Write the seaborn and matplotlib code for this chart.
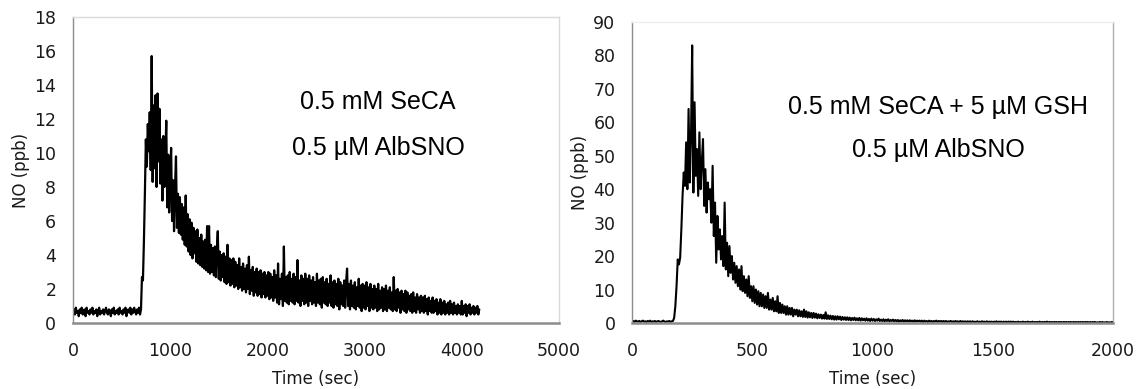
import numpy as np
import pandas as pd
import matplotlib
matplotlib.use("Agg")
import matplotlib.pyplot as plt
import seaborn as sns

# ---------------- data ----------------
left_dt = 10    # seconds between samples, left trace
right_dt = 5    # seconds between samples, right trace

left_no = [
    0.6, 0.8, 0.5, 0.9, 0.6, 0.7, 0.4, 0.8, 0.6, 0.9,
    0.5, 0.7, 0.8, 0.4, 0.9, 0.6, 0.7, 0.5, 0.8, 0.6,
    0.9, 0.5, 0.7, 0.6, 0.8, 0.4, 0.7, 0.9, 0.5, 0.7,
    0.6, 0.8, 0.5, 0.7, 0.9, 0.6, 0.5, 0.8, 0.7, 0.4,
    0.8, 0.6, 0.9, 0.5, 0.7, 0.6, 0.8, 0.5, 0.9, 0.6,
    0.7, 0.5, 0.8, 0.6, 0.9, 0.4, 0.7, 0.8, 0.6, 0.9,
    0.5, 0.8, 0.6, 0.9, 0.7, 0.5, 0.8, 0.6, 0.9, 0.5,
    0.8, 2.7, 2.5, 4.8, 7.6, 10.8, 9.2, 11.7, 10.1, 12.4,
    9.0, 15.7, 8.3, 12.8, 9.1, 13.4, 8.0, 13.5, 9.5, 12.6,
    8.2, 10.8, 7.2, 11.0, 8.0, 9.6, 11.9, 6.8, 9.9, 6.5,
    8.8, 10.3, 6.0, 8.4, 5.4, 8.0, 9.8, 5.6, 7.6, 5.3,
    7.4, 5.2, 7.0, 4.9, 6.8, 4.6, 7.5, 4.5, 6.4, 4.2,
    6.1, 4.0, 5.9, 3.8, 5.6, 4.1, 5.4, 3.6, 5.5, 3.5,
    5.0, 3.4, 5.2, 3.3, 4.8, 3.2, 4.9, 3.1, 5.7, 3.0,
    5.7, 2.9, 4.6, 3.0, 4.4, 2.8, 4.5, 2.7, 4.3, 5.4,
    2.6, 4.2, 2.5, 4.0, 2.7, 4.1, 2.4, 3.9, 2.3, 4.6,
    2.4, 3.8, 2.2, 3.7, 2.3, 3.8, 2.1, 3.6, 2.2, 3.4,
    2.0, 3.8, 2.1, 3.3, 1.9, 3.5, 2.0, 3.2, 1.8, 3.4,
    2.0, 3.9, 1.7, 3.1, 1.9, 3.3, 1.6, 3.0, 1.8, 3.2,
    1.6, 3.0, 1.7, 3.1, 1.5, 2.9, 1.7, 3.0, 1.5, 2.8,
    1.6, 3.0, 1.4, 2.9, 1.5, 2.7, 1.3, 3.1, 1.5, 2.8,
    1.2, 3.5, 1.1, 2.6, 1.4, 2.9, 1.0, 4.5, 1.3, 2.7,
    1.2, 2.8, 1.1, 3.0, 1.3, 2.6, 1.2, 2.9, 1.1, 2.7,
    1.3, 3.7, 1.2, 2.5, 1.0, 2.8, 1.3, 2.6, 1.1, 2.9,
    1.2, 2.6, 1.0, 2.8, 1.3, 2.5, 1.1, 2.7, 1.2, 2.4,
    1.0, 2.9, 1.2, 2.5, 1.1, 2.6, 0.9, 2.7, 1.2, 2.4,
    1.1, 2.6, 1.0, 2.3, 1.2, 2.8, 1.0, 2.4, 0.9, 2.5,
    1.1, 2.3, 1.0, 2.6, 0.8, 2.4, 1.1, 2.2, 1.0, 2.5,
    0.9, 2.4, 3.2, 1.0, 2.3, 0.8, 2.5, 1.0, 2.2, 0.9,
    2.4, 0.8, 2.1, 1.0, 2.6, 0.9, 2.2, 0.7, 2.3, 0.9,
    2.2, 0.8, 2.4, 1.0, 2.1, 0.7, 2.3, 0.9, 2.0, 0.8,
    2.2, 0.9, 2.0, 0.7, 2.3, 0.8, 1.9, 0.9, 2.1, 0.7,
    2.0, 0.8, 2.2, 0.7, 1.9, 0.9, 2.1, 0.8, 1.8, 0.7,
    2.7, 0.8, 1.9, 0.7, 2.0, 0.9, 1.8, 0.6, 1.9, 0.8,
    1.7, 0.7, 1.9, 0.6, 1.8, 0.8, 1.6, 0.7, 1.7, 0.6,
    1.8, 0.7, 1.5, 0.6, 1.7, 0.8, 1.5, 0.6, 1.6, 0.7,
    1.5, 0.6, 1.6, 0.7, 1.4, 0.5, 1.5, 0.7, 1.3, 0.6,
    1.5, 0.6, 1.3, 0.7, 1.4, 0.5, 1.2, 0.6, 1.4, 0.5,
    1.2, 0.6, 1.3, 0.5, 1.1, 0.6, 1.2, 0.5, 1.3, 0.6,
    1.1, 0.5, 1.2, 0.6, 1.0, 0.5, 1.1, 0.6, 1.0, 0.5,
    1.3, 0.5, 1.0, 0.6, 1.1, 0.4, 1.0, 0.6, 1.1, 0.5,
    0.9, 0.6, 1.0, 0.5, 0.9, 0.6, 1.0, 0.5, 0.8,
]

right_no = [
    0.4, 0.6, 0.3, 0.7, 0.5, 0.4, 0.6, 0.3, 0.5, 0.7,
    0.4, 0.5, 0.3, 0.6, 0.4, 0.7, 0.3, 0.5, 0.4, 0.6,
    0.3, 0.5, 0.6, 0.4, 0.3, 0.5, 0.7, 0.4, 0.3, 0.5,
    0.4, 0.6, 0.3, 0.5, 0.6, 1.5, 5.0, 11.0, 19.0, 17.5,
    19.5, 28.0, 38.0, 45.0, 41.0, 54.0, 40.0, 64.0, 42.0, 55.0,
    83.0, 39.0, 66.0, 44.0, 52.0, 38.0, 57.0, 40.0, 48.0, 55.0,
    35.0, 46.0, 33.0, 42.0, 37.0, 40.0, 30.0, 47.0, 26.0, 36.0,
    18.0, 32.0, 22.0, 28.0, 19.0, 26.0, 17.0, 36.0, 16.0, 24.0,
    14.0, 23.0, 15.0, 20.0, 13.0, 18.0, 12.0, 17.0, 11.0, 16.0,
    10.0, 17.0, 9.5, 14.0, 9.0, 13.0, 8.0, 14.0, 7.5, 11.0,
    6.5, 11.0, 6.0, 10.0, 5.5, 9.5, 5.0, 9.0, 5.0, 8.5,
    4.5, 8.0, 4.5, 9.0, 4.0, 7.0, 4.0, 7.5, 3.5, 6.5,
    3.5, 8.0, 3.0, 6.0, 3.0, 5.5, 3.0, 5.0, 2.5, 5.0,
    2.5, 4.5, 2.5, 4.5, 2.0, 4.0, 2.5, 4.0, 2.0, 3.8,
    2.0, 3.5, 1.8, 4.0, 1.8, 3.5, 1.6, 3.2, 1.7, 3.0,
    1.5, 3.0, 1.6, 2.8, 1.4, 2.6, 1.5, 2.5, 1.3, 2.4,
    1.3, 3.2, 1.2, 2.3, 1.2, 2.2, 1.1, 2.1, 1.0, 2.0,
    1.0, 2.0, 1.1, 1.9, 0.9, 1.8, 1.0, 1.7, 0.9, 1.7,
    0.9, 1.6, 0.8, 1.5, 0.9, 1.6, 0.8, 1.4, 0.8, 1.5,
    0.7, 1.4, 0.8, 1.3, 0.7, 1.4, 0.7, 1.2, 0.6, 1.3,
    0.7, 1.2, 0.6, 1.1, 0.7, 1.3, 0.6, 1.0, 0.6, 1.1,
    0.5, 1.0, 0.6, 1.1, 0.5, 0.9, 0.6, 1.0, 0.5, 0.9,
    0.5, 0.9, 0.4, 0.8, 0.5, 0.9, 0.4, 0.8, 0.5, 0.8,
    0.4, 0.8, 0.5, 0.7, 0.4, 0.8, 0.4, 0.7, 0.5, 0.7,
    0.4, 0.7, 0.3, 0.7, 0.4, 0.6, 0.3, 0.7, 0.4, 0.6,
    0.3, 0.6, 0.4, 0.7, 0.3, 0.6, 0.4, 0.6, 0.3, 0.6,
    0.3, 0.6, 0.3, 0.5, 0.4, 0.6, 0.3, 0.5, 0.3, 0.6,
    0.3, 0.5, 0.2, 0.6, 0.3, 0.5, 0.3, 0.5, 0.2, 0.5,
    0.3, 0.5, 0.2, 0.5, 0.3, 0.4, 0.2, 0.5, 0.3, 0.4,
    0.2, 0.5, 0.3, 0.4, 0.2, 0.5, 0.2, 0.4, 0.3, 0.4,
    0.2, 0.4, 0.2, 0.5, 0.2, 0.4, 0.3, 0.4, 0.2, 0.4,
    0.2, 0.4, 0.2, 0.4, 0.3, 0.4, 0.2, 0.4, 0.2, 0.3,
    0.2, 0.4, 0.2, 0.3, 0.2, 0.4, 0.2, 0.3, 0.2, 0.4,
    0.2, 0.3, 0.2, 0.4, 0.1, 0.3, 0.2, 0.3, 0.2, 0.4,
    0.1, 0.3, 0.2, 0.3, 0.2, 0.4, 0.1, 0.3, 0.2, 0.3,
    0.1, 0.3, 0.2, 0.3, 0.1, 0.3, 0.2, 0.3, 0.1, 0.3,
    0.2, 0.3, 0.1, 0.3, 0.2, 0.3, 0.1, 0.3, 0.2, 0.3,
    0.1, 0.3, 0.2, 0.3, 0.1, 0.3, 0.1, 0.3, 0.2, 0.3,
    0.1, 0.3, 0.1, 0.3, 0.2, 0.3, 0.1, 0.2, 0.1, 0.3,
    0.1, 0.3, 0.1, 0.2, 0.1, 0.3, 0.1, 0.2, 0.1, 0.3,
    0.2,
]

left_xticks = [0, 1000, 2000, 3000, 4000, 5000]
left_yticks = [0, 2, 4, 6, 8, 10, 12, 14, 16, 18]
right_xticks = [0, 500, 1000, 1500, 2000]
right_yticks = [0, 10, 20, 30, 40, 50, 60, 70, 80, 90]

left_labels = ["0.5 mM SeCA", "0.5 µM AlbSNO"]
right_labels = ["0.5 mM SeCA + 5 µM GSH", "0.5 µM AlbSNO"]

x_title = "Time (sec)"
y_title = "NO (ppb)"

# ---------------- build frames ----------------
left_df = pd.DataFrame({"t": np.arange(len(left_no)) * left_dt, "no": left_no})
right_df = pd.DataFrame({"t": np.arange(len(right_no)) * right_dt, "no": right_no})

sns.set_theme(style="white")
plt.rcParams["font.family"] = ["DejaVu Sans"]
tick_size, title_size = 12.5, 12

fig = plt.figure(figsize=(11.38, 3.89), dpi=100)
axL = fig.add_axes([0.0641, 0.1697, 0.4271, 0.7866])
axR = fig.add_axes([0.5554, 0.1697, 0.4227, 0.7738])

spine_dark = "#8c8c8c"
spine_light = "#d9d9d9"


def style(ax, xticks, yticks):
    ax.set_xticks(xticks)
    ax.set_yticks(yticks)
    ax.set_xlim(xticks[0], xticks[-1])
    ax.set_ylim(yticks[0], yticks[-1])
    ax.tick_params(axis="both", which="major", direction="out", length=5,
                   width=1, color=spine_dark, labelsize=tick_size,
                   labelcolor="#1a1a1a")
    ax.tick_params(axis="x", pad=9)
    ax.tick_params(axis="y", pad=7)
    for s in ("left", "bottom"):
        ax.spines[s].set_color(spine_dark)
        ax.spines[s].set_linewidth(1.0)
    ax.spines["bottom"].set_linewidth(1.8)
    ax.spines["top"].set_color(spine_light)
    ax.spines["right"].set_color(spine_light)
    ax.spines["right"].set_linewidth(1.0)
    ax.spines["top"].set_linewidth(1.0)
    ax.set_xlabel(x_title, fontsize=title_size, color="#1a1a1a", labelpad=7)
    ax.set_ylabel(y_title, fontsize=title_size, color="#1a1a1a", labelpad=3)
    ax.set_facecolor("white")
    ax.grid(False)


sns.lineplot(data=left_df, x="t", y="no", ax=axL, color="black",
             linewidth=1.6, estimator=None)
sns.lineplot(data=right_df, x="t", y="no", ax=axR, color="black",
             linewidth=1.5, estimator=None)

style(axL, left_xticks, left_yticks)
style(axR, right_xticks, right_yticks)
axR.spines["right"].set_color("#b0b0b0")
axR.spines["top"].set_color("#eeeeee")

txt_kw = dict(ha="center", va="center", fontsize=18,
              family=["Liberation Sans", "DejaVu Sans"], color="black")
axL.text(3140, 13.0, left_labels[0], **txt_kw)
axL.text(3140, 10.3, left_labels[1], **txt_kw)
axR.text(1274, 64.7, right_labels[0], **txt_kw)
axR.text(1274, 51.6, right_labels[1], **txt_kw)

fig.savefig("out.png", dpi=100, facecolor="white")
